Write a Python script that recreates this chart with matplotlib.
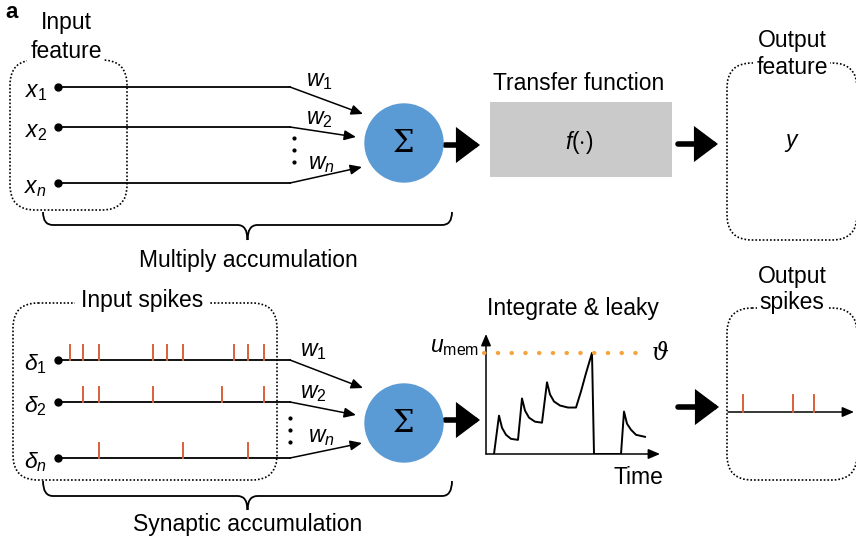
import matplotlib
matplotlib.use("Agg")
import matplotlib.pyplot as plt
from matplotlib.patches import FancyBboxPatch, Circle, Rectangle, FancyArrowPatch, PathPatch
from matplotlib.path import Path

plt.rcParams["font.family"] = ["Liberation Sans", "DejaVu Sans"]
plt.rcParams["mathtext.fontset"] = "custom"
plt.rcParams["mathtext.it"] = "Liberation Sans:italic"
plt.rcParams["mathtext.rm"] = "Liberation Sans"

# ---------------------------------------------------------------------------
# Data
# ---------------------------------------------------------------------------
feature_labels = [r"$x_\mathrm{1}$", r"$x_\mathrm{2}$", r"$x_n$"]
spike_labels = [r"$\delta_\mathrm{1}$", r"$\delta_\mathrm{2}$", r"$\delta_n$"]
weight_labels = [r"$w_\mathrm{1}$", r"$w_\mathrm{2}$", r"$w_n$"]

# spike times along each input train (pixels from the start dot)
input_spikes = [
    [12, 25, 41, 95, 109, 125, 176, 190, 206],
    [25, 41, 95, 164, 206],
    [41, 125, 190],
]
output_spikes = [15, 65, 86]

# membrane potential trace (time, u), threshold = 1
mem_t = [0.8, 1.3, 1.6, 2.0, 2.5, 3.2, 3.2, 3.6, 3.9, 4.3, 4.9, 5.6,
         5.6, 6.1, 6.4, 6.8, 7.4, 8.2, 9.0, 9.5, 10.0, 10.6, 10.8,
         13.5, 13.8, 14.1, 14.5, 15.0, 15.9]
mem_u = [0.00, 0.38, 0.26, 0.19, 0.15, 0.14, 0.14, 0.55, 0.43, 0.36, 0.32, 0.31,
         0.31, 0.71, 0.59, 0.52, 0.48, 0.46, 0.46, 0.62, 0.80, 1.00, 0.00,
         0.00, 0.42, 0.30, 0.24, 0.19, 0.17]
threshold = 1.0

BLUE = "#5b9bd5"
RED = "#d9603b"
ORANGE = "#f5a33a"
GREY = "#cacaca"
FS = 16.5


def dotted_box(ax, x0, y0, x1, y1, r=25):
    box = FancyBboxPatch((x0, y0), x1 - x0, y1 - y0,
                         boxstyle=f"round,pad=0,rounding_size={r}",
                         fill=False, ec="black", lw=1.2, ls=(0, (1, 1.2)),
                         zorder=1)
    ax.add_patch(box)


def brace(ax, x0, x1, y0, y_h, y_tip):
    mid = (x0 + x1) / 2
    verts = [(x0, y0), (x0, y_h), (x0 + 10, y_h),
             (mid - 10, y_h),
             (mid, y_h), (mid, y_tip),
             (mid, y_h), (mid + 10, y_h),
             (x1 - 10, y_h),
             (x1, y_h), (x1, y0)]
    codes = [Path.MOVETO, Path.CURVE3, Path.CURVE3,
             Path.LINETO,
             Path.CURVE3, Path.CURVE3,
             Path.CURVE3, Path.CURVE3,
             Path.LINETO,
             Path.CURVE3, Path.CURVE3]
    ax.add_patch(PathPatch(Path(verts, codes), fill=False, lw=1.3, ec="black"))


def thin_arrow(ax, p0, p1):
    ax.add_patch(FancyArrowPatch(p0, p1, arrowstyle="-|>,head_length=0.7,head_width=0.3",
                                 mutation_scale=10, lw=1.1, color="black",
                                 shrinkA=0, shrinkB=0))


def thick_arrow(ax, p0, p1):
    ax.add_patch(FancyArrowPatch(p0, p1, arrowstyle="-|>,head_length=0.6,head_width=0.45",
                                 mutation_scale=20, lw=4, color="black",
                                 shrinkA=0, shrinkB=0, joinstyle="miter"))


def neuron_inputs(ax, rows, labels, tips, cy, spikes=None):
    for i, (y, lab, tip) in enumerate(zip(rows, labels, tips)):
        ax.plot([58, 290], [y, y], color="black", lw=1.3, zorder=2)
        ax.plot(58, y, "o", color="black", ms=5, zorder=3)
        ax.text(47, y + 4, lab, fontsize=FS, ha="right", va="center")
        thin_arrow(ax, (290, y), tip)
        if spikes is not None:
            for s in spikes[i]:
                ax.plot([58 + s, 58 + s], [y, y - 15], color=RED, lw=1.4, zorder=2)
    ax.add_patch(Circle((404, cy), 39, color=BLUE, zorder=2))
    ax.text(404, cy + 1, "\u03a3", fontsize=22, ha="center", va="center",
            family="DejaVu Serif", zorder=3)


W, H = 856, 545
fig = plt.figure(figsize=(W / 100, H / 100), dpi=100)
ax = fig.add_axes([0, 0, 1, 1])
ax.set_xlim(0, W)
ax.set_ylim(H, 0)
ax.axis("off")

ax.text(12, 12, "a", fontsize=16, fontweight="bold", ha="center", va="center")

# ---------------------------------------------------------------------------
# Top: artificial neuron
# ---------------------------------------------------------------------------
dotted_box(ax, 10, 60, 127, 210)
ax.text(66, 22, "Input", fontsize=FS, ha="center", va="center")
ax.text(66, 51, "feature", fontsize=FS, ha="center", va="center",
        bbox=dict(fc="white", ec="none", pad=2), zorder=4)

neuron_inputs(ax, [87, 127, 183], feature_labels,
              [(363, 114), (356, 137), (362, 167)], 143)
for (x, y), lab in zip([(306, 80), (306, 118), (308, 163)], weight_labels):
    ax.text(x, y, lab, fontsize=FS, va="center")
ax.plot([294, 294, 294], [138, 150, 162], "o", color="black", ms=2)

thick_arrow(ax, (445, 145), (480, 145))
ax.text(579, 83, "Transfer function", fontsize=FS, ha="center", va="center")
ax.add_patch(Rectangle((490, 102), 182, 75, color=GREY, lw=0))
ax.text(579, 142, r"$f(\cdot)$", fontsize=FS, ha="center", va="center")
thick_arrow(ax, (678, 144), (718, 144))

dotted_box(ax, 727, 63, 857, 240)
ax.text(792, 40, "Output", fontsize=FS, ha="center", va="center")
ax.text(792, 68, "feature", fontsize=FS, ha="center", va="center",
        bbox=dict(fc="white", ec="none", pad=2), zorder=4)
ax.text(792, 143, r"$y$", fontsize=FS, ha="center", va="center")

brace(ax, 43, 452, 212, 225, 240)
ax.text(248, 261, "Multiply accumulation", fontsize=FS, ha="center", va="center")

# ---------------------------------------------------------------------------
# Bottom: spiking neuron
# ---------------------------------------------------------------------------
dotted_box(ax, 13, 303, 277, 480)
ax.text(142, 300, "Input spikes", fontsize=FS, ha="center", va="center",
        bbox=dict(fc="white", ec="none", pad=4), zorder=4)

neuron_inputs(ax, [360, 402, 458], spike_labels,
              [(363, 388), (356, 415), (362, 443)], 423, spikes=input_spikes)
for (x, y), lab in zip([(300, 350), (300, 393), (308, 437)], weight_labels):
    ax.text(x, y, lab, fontsize=FS, va="center")
ax.plot([290, 290, 290], [418, 430, 442], "o", color="black", ms=2)

thick_arrow(ax, (445, 420), (480, 420))

# membrane potential panel
ax.text(573, 308, "Integrate & leaky", fontsize=FS, ha="center", va="center")
ax.text(430, 346, r"$u_\mathrm{mem}$", fontsize=FS, va="center")
thin_arrow(ax, (486, 454), (486, 334))
thin_arrow(ax, (486, 454), (660, 454))
ax.text(638, 478, "Time", fontsize=FS, ha="center", va="center")
ax.text(652, 354, "\u03d1", fontsize=17, family="DejaVu Serif", style="italic",
        va="center")

mem = fig.add_axes([486 / W, 1 - 454 / H, 171 / W, 118 / H])
mem.set_xlim(0, 17.1)
mem.set_ylim(0, 118 / 101)
mem.axis("off")
mem.plot(mem_t, mem_u, color="black", lw=1.4, solid_joinstyle="round")
mem.plot([-0.2, 16.3], [threshold, threshold], ls=(0, (0.1, 3.2)), lw=3,
         color=ORANGE, dash_capstyle="round", clip_on=False)

thick_arrow(ax, (678, 407), (719, 407))

dotted_box(ax, 727, 308, 857, 480)
ax.text(792, 277, "Output", fontsize=FS, ha="center", va="center")
ax.text(792, 303, "spikes", fontsize=FS, ha="center", va="center",
        bbox=dict(fc="white", ec="none", pad=2), zorder=4)
thin_arrow(ax, (728, 412), (854, 412))
for s in output_spikes:
    ax.plot([728 + s, 728 + s], [412, 395], color=RED, lw=1.4)

brace(ax, 43, 452, 481, 496, 510)
ax.text(248, 524, "Synaptic accumulation", fontsize=FS, ha="center", va="center")

fig.savefig("out.png", dpi=100)
